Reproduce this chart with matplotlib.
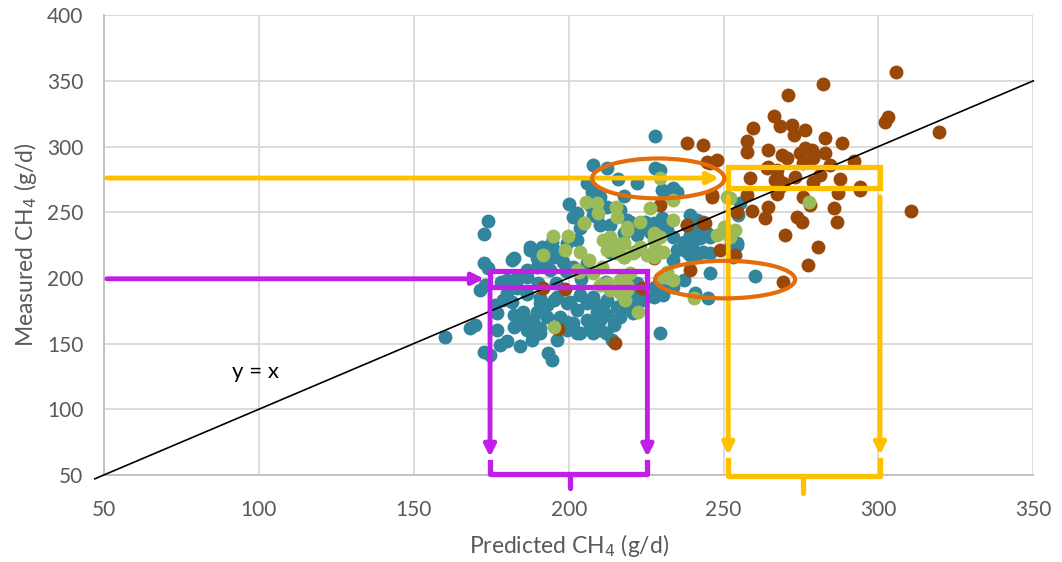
import numpy as np
import matplotlib
matplotlib.use('Agg')
import matplotlib.pyplot as plt
from matplotlib.patches import Ellipse

plt.rcParams['font.family'] = ['Lato', 'DejaVu Sans']

# teal series (predicted, measured)
teal_x = [160.1, 168.2, 169.8, 174.1, 172.7, 172.5, 174.1, 181.6, 187.5, 171.4,
          173.0, 180.0, 183.2, 186.5, 176.2, 176.8, 181.6, 182.2, 176.8, 172.5,
          174.6, 184.3, 188.1, 193.4, 194.5, 188.1, 190.8, 196.1, 199.4, 201.5,
          203.7, 206.9, 185.4, 189.7, 193.0, 185.9, 182.2, 183.2, 186.5, 190.8,
          196.1, 200.5, 203.7, 206.9, 189.7, 192.4, 195.1, 198.3, 201.5, 180.0,
          177.8, 200.2, 208.0, 187.5, 191.3, 194.5, 201.5, 203.7, 208.0, 207.5,
          227.7, 212.3, 227.9, 222.0, 230.0, 233.8, 233.3, 208.5, 210.2, 206.9,
          219.8, 224.6, 230.0, 226.3, 217.7, 222.0, 213.4, 210.2, 239.2, 241.3,
          238.1, 241.3, 239.2, 242.4, 239.7, 254.3, 239.2, 243.5, 245.7, 260.3,
          240.8, 245.1, 230.6, 227.9, 229.5, 216.6, 214.5, 208.0, 211.2, 212.3,
          209.0, 217.7, 219.8, 222.0, 233.8, 235.0, 213.4, 217.7, 221.0, 182.2,
          212.0, 214.0, 252.1, 254.8, 243.5, 244.6, 240.3, 238.1, 234.9, 229.5,
          202.6, 209.1, 212.3, 216.6, 218.8, 223.1, 226.3, 227.4, 229.5, 231.7,
          233.8, 237.1, 190.8, 195.1, 199.4, 202.6, 199.0, 202.6, 205.9, 194.0,
          189.7, 186.5, 184.3, 182.2, 180.0, 178.9, 190.8, 195.1, 199.4, 202.6,
          205.9, 208.0, 212.3, 215.5, 217.7, 220.9, 224.1, 227.4, 230.6, 233.8,
          237.1, 184.3, 188.6, 192.9, 197.2, 201.5, 205.9, 210.2, 220.9, 186.5,
          190.8, 199.4, 202.6, 210.2, 255.4, 254.3, 245.7, 254.3, 253.2, 240.8,
          245.7, 178.0, 196.0, 204.0, 212.0, 218.0, 222.0, 190.0, 216.0, 206.0,
          218.0]
teal_y = [155.0, 161.6, 164.0, 243.5, 233.1, 211.0, 207.2, 213.5, 221.2, 190.7,
          194.5, 198.3, 199.6, 200.8, 179.3, 173.0, 181.8, 171.7, 160.3, 143.8,
          141.2, 147.9, 152.9, 142.6, 137.4, 164.0, 161.6, 152.9, 166.6, 161.6,
          157.8, 162.8, 174.2, 174.2, 179.3, 164.0, 162.8, 192.0, 187.5, 184.4,
          185.6, 181.8, 186.9, 181.8, 214.9, 209.8, 216.1, 212.3, 208.5, 151.6,
          149.0, 256.2, 285.8, 223.7, 223.7, 227.5, 246.5, 237.7, 247.8, 265.5,
          308.2, 283.3, 283.3, 271.9, 266.8, 268.1, 261.7, 265.6, 261.7, 255.4,
          242.7, 242.7, 245.3, 235.1, 233.9, 232.6, 240.2, 240.2, 248.1, 244.0,
          240.2, 237.7, 232.6, 230.1, 225.0, 226.3, 217.3, 219.9, 203.4, 201.6,
          188.2, 184.4, 186.9, 193.2, 157.8, 170.5, 164.0, 157.8, 179.3, 171.7,
          174.2, 178.1, 184.4, 188.2, 213.5, 221.2, 219.9, 216.1, 219.9, 214.9,
          158.0, 152.5, 223.7, 247.8, 242.7, 233.9, 228.8, 219.9, 265.5, 282.0,
          249.1, 246.5, 254.1, 251.6, 244.0, 238.9, 236.4, 241.5, 238.9, 236.4,
          231.3, 227.5, 218.6, 221.2, 226.3, 228.8, 205.0, 205.9, 211.0, 205.9,
          208.5, 205.9, 200.8, 193.2, 188.2, 183.1, 180.6, 183.1, 180.6, 175.5,
          180.6, 185.6, 183.1, 178.1, 183.1, 180.6, 183.1, 185.6, 190.7, 193.2,
          198.3, 170.4, 167.9, 170.4, 170.4, 165.4, 167.9, 167.9, 173.0, 160.3,
          157.8, 160.3, 157.8, 160.3, 256.7, 249.1, 231.3, 225.0, 216.1, 216.1,
          218.6, 197.0, 196.0, 199.0, 197.0, 199.0, 196.0, 196.0, 275.0, 272.0,
          262.0]

# brown series
brown_x = [305.7, 282.2, 270.9, 303.2, 302.2, 319.4, 266.3, 259.4, 268.3, 272.0,
           272.6, 276.3, 282.8, 288.2, 257.5, 257.5, 264.5, 268.8, 270.4, 274.7,
           276.3, 279.0, 282.8, 292.0, 264.5, 267.2, 284.4, 258.6, 266.7, 269.3,
           273.1, 279.0, 281.2, 287.6, 294.1, 243.5, 247.8, 245.7, 310.4, 257.5,
           264.5, 263.4, 259.1, 267.2, 275.8, 278.0, 273.6, 275.3, 285.5, 286.5,
           287.1, 294.1, 269.9, 280.6, 277.4, 269.3, 248.9, 253.7, 254.3, 243.5,
           246.2, 238.1, 244.6, 246.2, 239.2, 229.5, 238.1, 215.0, 191.8, 198.8,
           223.6, 196.7, 227.4, 264.0, 267.2, 268.3, 278.5, 275.8, 279.0, 244.1]
brown_y = [356.4, 347.5, 339.6, 322.6, 318.8, 311.2, 323.1, 313.8, 315.5, 316.3,
           308.7, 312.5, 306.6, 302.4, 304.1, 296.0, 297.3, 293.5, 291.0, 294.7,
           298.6, 293.5, 295.2, 288.9, 284.6, 282.0, 285.8, 276.2, 274.4, 271.9,
           277.0, 273.2, 278.2, 275.0, 269.3, 301.0, 289.7, 287.1, 250.8, 263.0,
           254.1, 245.3, 251.0, 264.2, 261.7, 255.4, 246.5, 242.7, 252.9, 242.7,
           264.3, 266.8, 232.6, 223.7, 209.7, 197.0, 221.4, 217.3, 250.3, 241.5,
           261.7, 302.4, 288.4, 263.0, 206.0, 255.4, 240.2, 150.2, 192.0, 191.2,
           192.0, 160.8, 214.9, 283.3, 277.0, 269.3, 297.3, 287.1, 290.9, 241.5]

# green series
green_x = [205.6, 205.0, 199.9, 229.5, 233.8, 226.3, 215.4, 209.0, 209.6, 215.5,
           218.7, 223.1, 227.4, 213.4, 217.7, 247.8, 252.1, 191.8, 198.8, 203.7,
           206.4, 203.2, 195.1, 240.3, 233.8, 231.6, 230.6, 222.5, 213.4, 216.6,
           210.2, 218.8, 225.2, 227.9, 230.6, 204.8, 218.8, 211.2, 214.5, 212.3,
           215.5, 217.7, 220.9, 223.1, 227.4, 229.5, 202.6, 208.0, 210.7, 227.4,
           212.3, 216.6, 219.8, 218.8, 218.2, 250.0, 253.7, 252.1, 277.7, 251.0,
           233.8, 195.0]
green_y = [257.5, 242.0, 232.0, 275.7, 259.2, 252.9, 254.1, 256.7, 249.1, 246.5,
           238.9, 242.7, 233.9, 231.3, 226.3, 232.6, 231.3, 217.3, 221.2, 219.9,
           213.5, 204.6, 162.8, 184.4, 198.3, 204.6, 200.8, 174.2, 190.7, 188.2,
           194.5, 194.5, 217.3, 222.4, 219.9, 241.5, 236.4, 228.8, 226.3, 221.2,
           218.6, 216.1, 218.6, 223.7, 228.8, 231.3, 205.9, 203.4, 208.5, 216.1,
           195.8, 198.3, 203.4, 190.7, 183.1, 238.9, 236.4, 260.5, 257.9, 261.7,
           244.0, 232.0]

x_ticks = [50, 100, 150, 200, 250, 300, 350]
y_ticks = [50, 100, 150, 200, 250, 300, 350, 400]

TEAL = '#31859C'
BROWN = '#984807'
GREEN = '#9BBB59'
YELLOW = '#FFC000'
PURPLE = '#C11EE8'
ORANGE = '#E46C0A'

fig = plt.figure(figsize=(10.62, 5.62), dpi=100)
ax = fig.add_axes([0.098, 0.155, 0.875, 0.818])

ax.scatter(teal_x, teal_y, s=100, color=TEAL, linewidths=0, zorder=3)
ax.scatter(brown_x, brown_y, s=100, color=BROWN, linewidths=0, zorder=3)
ax.scatter(green_x, green_y, s=100, color=GREEN, linewidths=0, zorder=3)

# y = x line
ax.plot([47, 350], [47, 350], color='black', lw=1.2, zorder=4, clip_on=False)
ax.text(99, 128, 'y = x', fontsize=16, color='black', ha='center', va='center')

# yellow annotations
ax.annotate('', xy=(249.5, 276), xytext=(50, 276),
            arrowprops=dict(arrowstyle='-|>', color=YELLOW, lw=3.5, mutation_scale=17),
            zorder=5)
ax.add_patch(plt.Rectangle((251.5, 268.3), 49, 16, fill=False, ec=YELLOW, lw=3.8, zorder=5))
for xv in [251.5, 300.5]:
    ax.annotate('', xy=(xv, 63), xytext=(xv, 264),
                arrowprops=dict(arrowstyle='-|>', color=YELLOW, lw=3.5, mutation_scale=17),
                zorder=5)
ax.plot([251.5, 251.5, 300.5, 300.5], [61, 49.5, 49.5, 61], color=YELLOW, lw=3.8,
        solid_joinstyle='round', clip_on=False, zorder=5)
ax.plot([275.7, 275.7], [49.5, 36], color=YELLOW, lw=3.8, solid_capstyle='round',
        clip_on=False, zorder=5)

# purple annotations
ax.annotate('', xy=(173.6, 199.3), xytext=(50, 199.3),
            arrowprops=dict(arrowstyle='-|>', color=PURPLE, lw=3.5, mutation_scale=17),
            zorder=5)
ax.add_patch(plt.Rectangle((174.6, 193.2), 50.8, 12, fill=False, ec=PURPLE, lw=3.8, zorder=5))
for xv in [174.6, 225.4]:
    ax.annotate('', xy=(xv, 61.5), xytext=(xv, 194),
                arrowprops=dict(arrowstyle='-|>', color=PURPLE, lw=3.5, mutation_scale=17),
                zorder=5)
ax.plot([174.6, 174.6, 225.4, 225.4], [59.5, 50.5, 50.5, 59.5], color=PURPLE, lw=3.8,
        solid_joinstyle='round', clip_on=False, zorder=5)
ax.plot([200.5, 200.5], [50.5, 40], color=PURPLE, lw=3.8, solid_capstyle='round',
        clip_on=False, zorder=5)

# orange ellipses
ax.add_patch(Ellipse((228.9, 275.7), 42.7, 30.4, fill=False, ec=ORANGE, lw=3, zorder=6))
ax.add_patch(Ellipse((250.5, 198.7), 45.2, 28.6, fill=False, ec=ORANGE, lw=3, zorder=6))

ax.set_xlim(50, 350)
ax.set_ylim(50, 400)
ax.set_xticks(x_ticks)
ax.set_yticks(y_ticks)
ax.grid(True, color='#D9D9D9', lw=1.3, zorder=0)
ax.set_axisbelow(True)
for sp in ['top', 'right']:
    ax.spines[sp].set_visible(False)
for sp in ['left', 'bottom']:
    ax.spines[sp].set_color('#BFBFBF')
    ax.spines[sp].set_linewidth(1.3)
ax.tick_params(length=0, labelsize=15, colors='#595959')
ax.tick_params(axis='x', pad=18)
ax.tick_params(axis='y', pad=15)

ax.set_xlabel('Predicted CH$_4$ (g/d)', fontsize=16.5, color='#595959', labelpad=9)
ax.set_ylabel('Measured CH$_4$ (g/d)', fontsize=16.5, color='#595959', labelpad=6)

fig.savefig('out.png', dpi=100)
